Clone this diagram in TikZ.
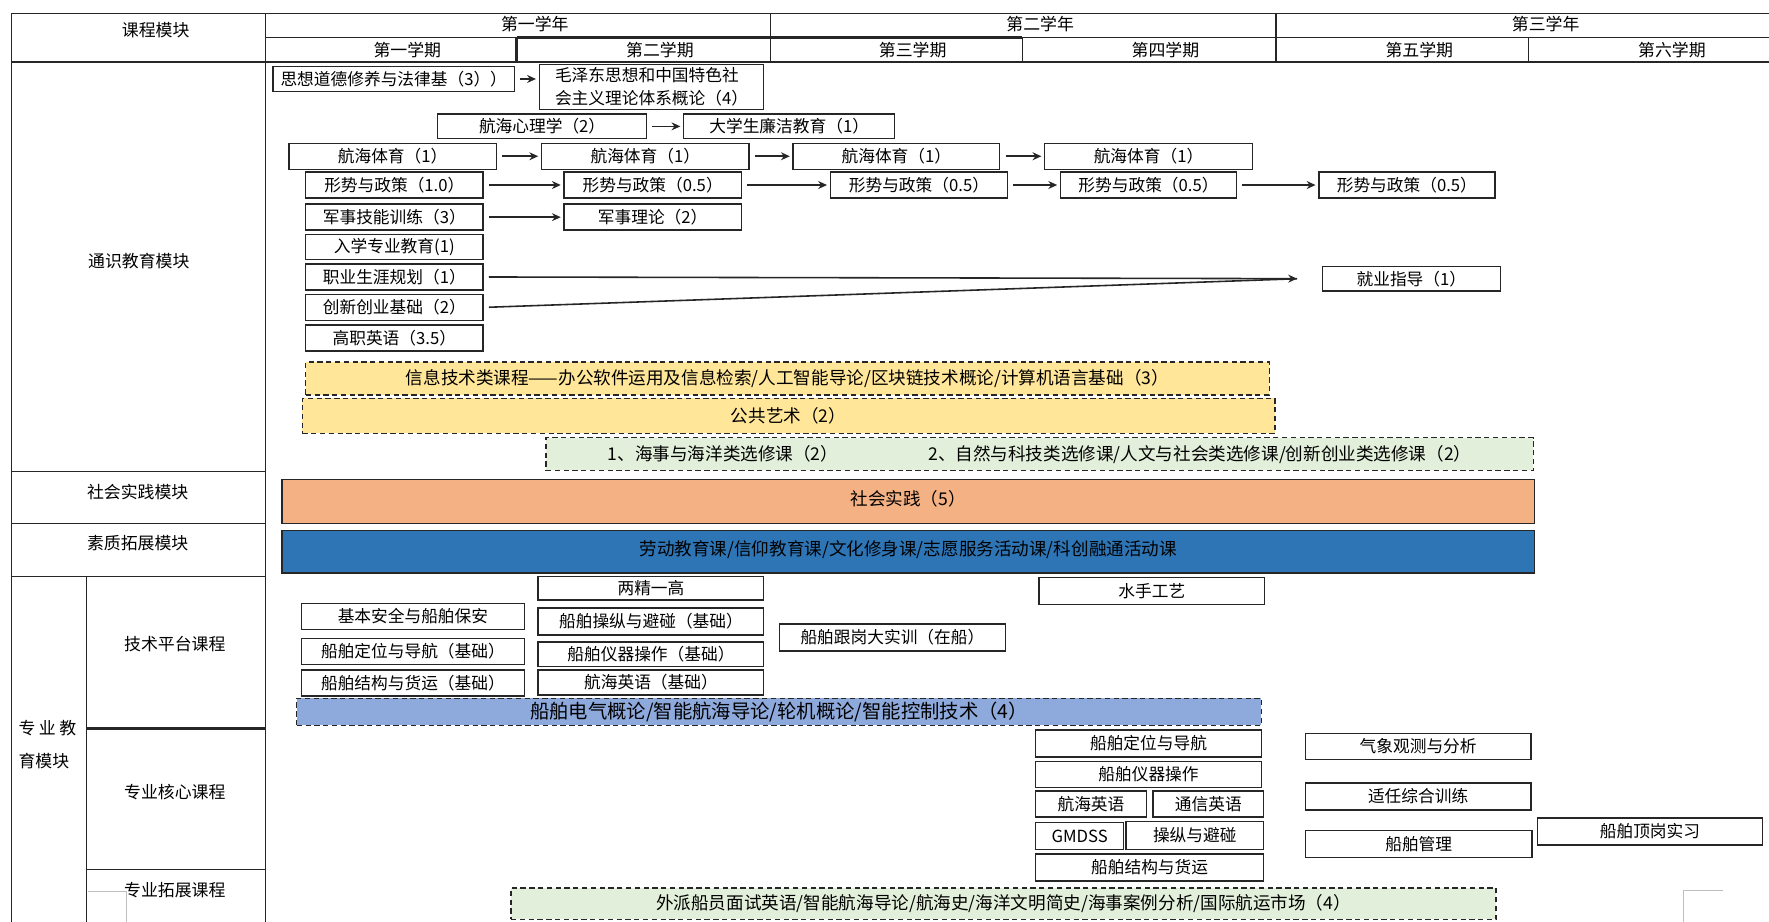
\documentclass[tikz,border=0pt]{standalone}
\usepackage{fontspec}
\setmainfont{Noto Sans CJK SC}
\usetikzlibrary{arrows.meta}
\definecolor{GoldFill}{HTML}{FFE699}
\definecolor{MintFill}{HTML}{E2EFDA}
\definecolor{PeachFill}{HTML}{F4B183}
\definecolor{NavyFill}{HTML}{2E75B6}
\definecolor{SkyFill}{HTML}{8EA9DB}
\definecolor{EdgeLine}{HTML}{262626}
\newlength\pxu
\setlength\pxu{0.02256cm}

\begin{document}
\begin{tikzpicture}[
    x=0.02256cm, y=-0.02256cm,
    tabline/.style={line width=0.7pt, EdgeLine},
    tabthick/.style={line width=1.6pt, EdgeLine},
    stray/.style={line width=0.6pt, black!25},
    cellname/.style={inner sep=0pt, font=\fontsize{9.6}{11}\selectfont},
    course/.style 2 args={
        rectangle, draw=EdgeLine, line width=0.8pt, fill=white,
        minimum width=#1*\pxu, minimum height=#2*\pxu, inner sep=0pt,
        font=\fontsize{9.5}{11.5}\selectfont, align=center
    },
    elective/.style n args={3}{
        course={#1}{#2}, fill=#3, dash pattern=on 3pt off 2pt,
        font=\fontsize{10}{12}\selectfont
    },
    band/.style n args={3}{
        course={#1}{#2}, fill=#3, font=\fontsize{10}{12}\selectfont
    },
    arr/.style={-{Stealth[length=5pt, width=4.5pt]}, line width=0.9pt,
                EdgeLine, shorten <=3pt, shorten >=1.5pt}
]
\path[use as bounding box, fill=white] (0,0) rectangle (1568,817);

% Table frame
\draw[tabline] (10,12) -- (1568,12);
\draw[tabline] (235,33) -- (1568,33);
\draw[tabline] (10,55) -- (1568,55);
\draw[tabline] (10,12) -- (10,817);
\draw[tabline] (235,12) -- (235,817);
\foreach \x in {683,1131} \draw[tabline] (\x,12) -- (\x,55);
\foreach \x in {906,1355} \draw[tabline] (\x,33) -- (\x,55);
\draw[tabthick] (458,33) -- (906,33);
\draw[tabthick] (458,33) -- (458,55);
\foreach \y in {418,464,511} \draw[tabline] (10,\y) -- (235,\y);
\draw[tabline] (77,511) -- (77,817);
\draw[tabthick] (77,646) -- (235,646);
\draw[tabline] (77,771) -- (235,771);
\draw[stray] (78,790) -- (112,790) -- (112,817);
\draw[stray] (1527,789) -- (1492,789) -- (1492,817);

% Header
\node[cellname] (hdmod) at (138,27) {课程模块};
\node[cellname] (yr1) at (474,21) {第一学年};
\node[cellname] (yr2) at (922,21) {第二学年};
\node[cellname] (yr3) at (1370,21) {第三学年};
\node[cellname] (sm1) at (361,44) {第一学期};
\node[cellname] (sm2) at (585,44) {第二学期};
\node[cellname] (sm3) at (809,44) {第三学期};
\node[cellname] (sm4) at (1033,44) {第四学期};
\node[cellname] (sm5) at (1258,44) {第五学期};
\node[cellname] (sm6) at (1482,44) {第六学期};

% Module column
\node[cellname] (tongshi) at (123,231) {通识教育模块};
\node[cellname] (shehui) at (122,436) {社会实践模块};
\node[cellname] (suzhi) at (122,481) {素质拓展模块};
\node[cellname, align=left, font=\fontsize{9.6}{19}\selectfont] (zhuanye) at (42,660)
    {专\hspace{2pt}业\hspace{2pt}教\\育模块};
\node[cellname] (jishu) at (155,571) {技术平台课程};
\node[cellname] (hexin) at (155,702) {专业核心课程};
\node[cellname] (tuozhan) at (155,789) {专业拓展课程};

% General education
\node[course={214}{22}] (sxdd) at (349,70) {思想道德修养与法律基（3））};
\node[course={199}{40}, align=left, font=\fontsize{9.5}{12.8}\selectfont] (mzd) at (577.5,77)
    {毛泽东思想和中国特色社\\会主义理论体系概论（4）};
\node[course={185}{22}] (hhxl) at (480.5,112) {航海心理学（2）};
\node[course={187}{22}] (ljjy) at (699.5,112) {大学生廉洁教育（1）};
\node[course={184}{23}] (ty1) at (348,138.5) {航海体育（1）};
\node[course={184}{23}] (ty2) at (572,138.5) {航海体育（1）};
\node[course={183}{23}] (ty3) at (794.5,138.5) {航海体育（1）};
\node[course={184}{23}] (ty4) at (1018,138.5) {航海体育（1）};
\node[course={157}{23}] (xs1) at (349.5,164) {形势与政策（1.0）};
\node[course={157}{23}] (xs2) at (578.5,164) {形势与政策（0.5）};
\node[course={157}{23}] (xs3) at (814.5,164) {形势与政策（0.5）};
\node[course={156}{23}] (xs4) at (1018,164) {形势与政策（0.5）};
\node[course={156}{23}] (xs5) at (1247,164) {形势与政策（0.5）};
\node[course={157}{23}] (jsjn) at (349.5,192.5) {军事技能训练（3）};
\node[course={157}{23}] (jsll) at (578.5,192.5) {军事理论（2）};
\node[course={157}{22}] (rxjy) at (349.5,219) {入学专业教育(1)};
\node[course={157}{23}] (zysy) at (349.5,245.5) {职业生涯规划（1）};
\node[course={158}{22}] (jyzd) at (1251,247) {就业指导（1）};
\node[course={157}{23}] (cxcy) at (349.5,272.5) {创新创业基础（2）};
\node[course={157}{23}] (gzyy) at (349.5,299.5) {高职英语（3.5）};

\node[elective={854}{29}{GoldFill}] (xxjs) at (698,335.5)
    {信息技术类课程——办公软件运用及信息检索/人工智能导论/区块链技术概论/计算机语言基础（3）};
\node[elective={862}{31}{GoldFill}] (ggys) at (699,368.5) {公共艺术（2）};
\node[elective={875}{29}{MintFill}] (xxk) at (921.5,402.5)
    {1、海事与海洋类选修课（2）\hspace{1.8cm}2、自然与科技类选修课/人文与社会类选修课/创新创业类选修课（2）};

% Practice and quality bands
\node[band={1110}{39}{PeachFill}] (shsj) at (805,444.5) {\raisebox{4pt}{社会实践（5）}};
\node[band={1110}{38}{NavyFill}] (szkc) at (805,489)
    {\raisebox{4pt}{劳动教育课/信仰教育课/文化修身课/志愿服务活动课/科创融通活动课}};

% Technical platform
\node[course={200}{21}] (ljyg) at (577,521.5) {两精一高};
\node[course={198}{23}] (jbaq) at (366,546.5) {基本安全与船舶保安};
\node[course={200}{24}] (czbpj) at (577,551) {船舶操纵与避碰（基础）};
\node[course={200}{24}] (ggsx) at (791,565) {船舶跟岗大实训（在船）};
\node[course={200}{24}] (ssgy) at (1021,524) {水手工艺};
\node[course={198}{23}] (dwdhj) at (366,577.5) {船舶定位与导航（基础）};
\node[course={200}{22}] (yqczj) at (577,580) {船舶仪器操作（基础）};
\node[course={198}{23}] (jghyj) at (366,605.5) {船舶结构与货运（基础）};
\node[course={200}{22}] (hhyyj) at (577,605) {航海英语（基础）};
\node[elective={855}{24}{SkyFill}, font=\fontsize{11}{13}\selectfont] (dqgl) at (690.5,631)
    {船舶电气概论/智能航海导论/轮机概论/智能控制技术（4）};

% Core courses
\node[course={200}{24}] (dwdh) at (1018,659) {船舶定位与导航};
\node[course={200}{23}] (yqcz) at (1018,686.5) {船舶仪器操作};
\node[course={98}{23}] (hhyy) at (967,712.5) {航海英语};
\node[course={98}{23}] (txyy) at (1071,712.5) {通信英语};
\node[course={78}{24}] (gmdss) at (957,741) {GMDSS};
\node[course={122}{25}] (czbp) at (1059,740.5) {操纵与避碰};
\node[course={202}{24}] (jghy) at (1019,769) {船舶结构与货运};
\node[course={200}{23}] (qxgc) at (1257,661.5) {气象观测与分析};
\node[course={200}{24}] (srzh) at (1257,706) {适任综合训练};
\node[course={201}{24}] (cbgl) at (1257.5,748) {船舶管理};
\node[course={199}{24}] (dgsx) at (1462.5,737) {船舶顶岗实习};

% Extension courses
\node[elective={873}{28}{MintFill}] (wpcy) at (889.5,801)
    {外派船员面试英语/智能航海导论/航海史/海洋文明简史/海事案例分析/国际航运市场（4）};

% Arrows
\draw[arr] (sxdd.east) -- (sxdd.east -| mzd.west);
\foreach \a/\b in {hhxl/ljjy, ty1/ty2, ty2/ty3, ty3/ty4, xs1/xs2, xs2/xs3,
                   xs3/xs4, xs4/xs5, jsjn/jsll} {
    \draw[arr] (\a.east) -- (\b.west);
}
\coordinate (jytip) at (1152,247);
\draw[arr] (zysy.east) -- (jytip);
\draw[arr, -] (cxcy.east) -- (jytip);

\end{tikzpicture}
\end{document}
